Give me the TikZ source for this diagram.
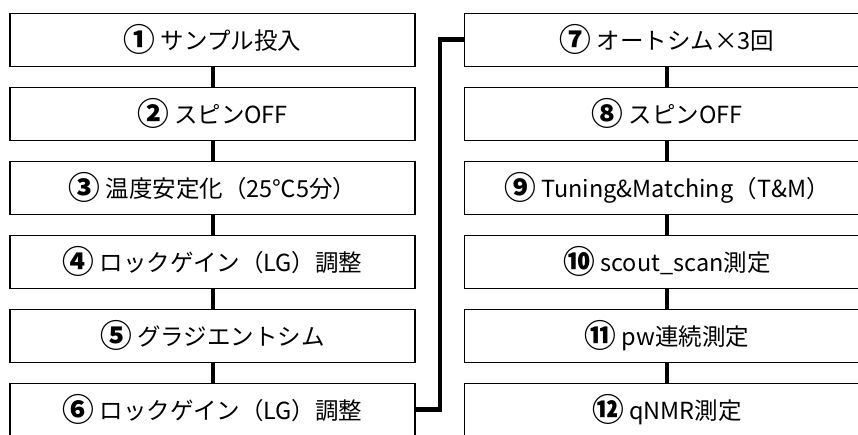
\documentclass[tikz,border=0pt]{standalone}
\usepackage{fontspec}
\usepackage{graphicx}
\setmainfont{Noto Sans CJK JP}
\newcommand{\circnum}[1]{\raisebox{-2pt}{\scalebox{1.35}{\bfseries #1}}}
\begin{document}
\begin{tikzpicture}[x=1pt,y=-1pt,
  stepbox/.style={draw=black,line width=1.3pt,fill=white,minimum width=405pt,minimum height=53pt,inner sep=0pt,font=\fontsize{23.5}{28}\selectfont},
  link/.style={line width=4pt},
  biglink/.style={line width=4.5pt,line join=miter}]
\useasboundingbox (0,0) rectangle (858,434);
\clip (0,0) rectangle (858,434);
\fill[white] (0,0) rectangle (858,434);
% left column
\node[stepbox] (b1) at (212.5,39.7) {\circnum{①} サンプル投入};
\node[stepbox] (b2) at (212.5,113.7) {\circnum{②} スピンOFF};
\node[stepbox] (b3) at (212.5,187.7) {\circnum{③} 温度安定化（25℃5分）};
\node[stepbox] (b4) at (212.5,261.7) {\circnum{④} ロックゲイン（LG）調整};
\node[stepbox] (b5) at (212.5,335.7) {\circnum{⑤} グラジエントシム};
\node[stepbox] (b6) at (212.5,409.7) {\circnum{⑥} ロックゲイン（LG）調整};
% right column
\node[stepbox] (b7) at (667,39.7) {\circnum{⑦} オートシム×3回};
\node[stepbox] (b8) at (667,113.7) {\circnum{⑧} スピンOFF};
\node[stepbox] (b9) at (667,187.7) {\circnum{⑨} Tuning\&Matching（T\&M）};
\node[stepbox] (b10) at (667,261.7) {\circnum{⑩} scout\_scan測定};
\node[stepbox] (b11) at (667,335.7) {\circnum{⑪} pw連続測定};
\node[stepbox] (b12) at (667,409.7) {\circnum{⑫} qNMR測定};
% connectors
\draw[link] (b1.south) -- (b2.north);
\draw[link] (b2.south) -- (b3.north);
\draw[link] (b3.south) -- (b4.north);
\draw[link] (b4.south) -- (b5.north);
\draw[link] (b5.south) -- (b6.north);
\draw[link] (b7.south) -- (b8.north);
\draw[link] (b8.south) -- (b9.north);
\draw[link] (b9.south) -- (b10.north);
\draw[link] (b10.south) -- (b11.north);
\draw[link] (b11.south) -- (b12.north);
\draw[biglink] (b6.east) -- ++(24.5,0) |- (b7.west);
\end{tikzpicture}
\end{document}
